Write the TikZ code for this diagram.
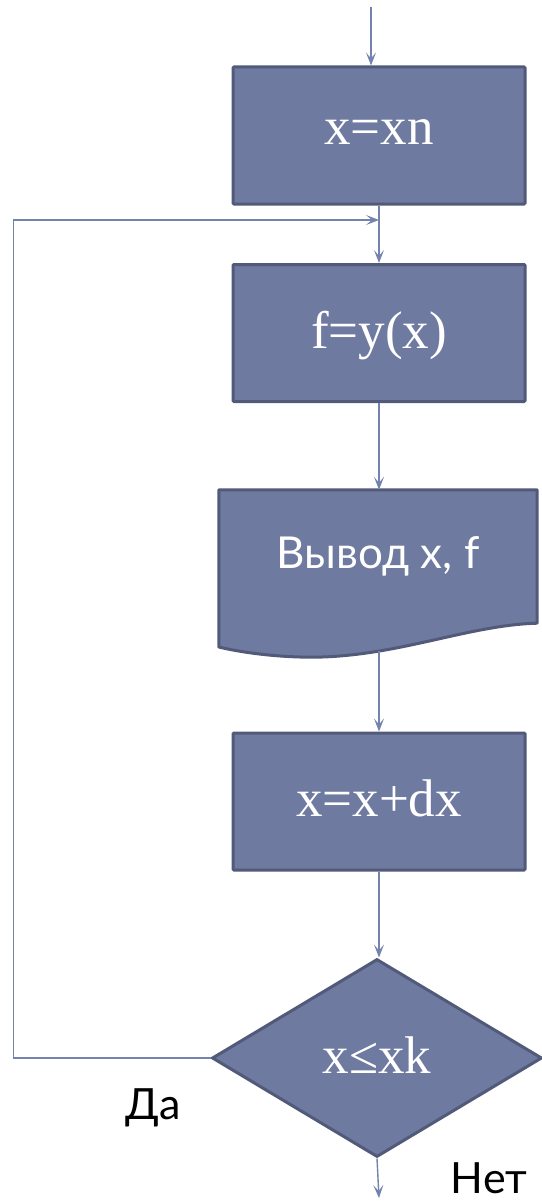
\documentclass[tikz,border=0pt]{standalone}
\usepackage{fontspec}
\setmainfont{Liberation Serif}
\newfontfamily\labelfont{Lato}
\usetikzlibrary{shapes.geometric,arrows.meta,backgrounds}
\definecolor{boxfill}{RGB}{111,122,160}
\definecolor{boxline}{RGB}{82,90,122}
\definecolor{flow}{RGB}{115,131,173}
\begin{document}
\begin{tikzpicture}[x=1pt,y=-1pt,
  block/.style={rectangle,draw=boxline,fill=boxfill,line width=3pt,rounded corners=1pt,
    minimum width=\boxw pt,minimum height=\boxh pt,text=white,text depth=6pt,font=\fontsize{53}{60}\selectfont},
  decide/.style={diamond,draw=boxline,fill=boxfill,line width=3pt,aspect=1.67,inner sep=0pt,
    minimum width=330pt,minimum height=198pt,text=white,text depth=6pt,font=\fontsize{53}{60}\selectfont},
  arr/.style={draw=flow,line width=1.4pt,-{Stealth[length=13pt,width=10pt,inset=6pt]}},
  lbl/.style={font=\labelfont\fontsize{43}{50}\selectfont,anchor=base,inner sep=0pt}]
\pgfmathsetmacro{\boxw}{292}
\pgfmathsetmacro{\boxh}{137}
\useasboundingbox (0,0) rectangle (541,1201);
\node[block] (xn) at (379,135.5) {x=xn};
\node[block] (fy) at (379,333) {f=y(x)};
\node[text=white,font=\labelfont\fontsize{44}{50}\selectfont,minimum width=318pt,minimum height=133pt] (out) at (378,556.5) {Вывод x, f};
\node[block] (dx) at (379,801.5) {x=x+dx};
\node[decide] (cmp) at (377,1058) {x≤xk};
\coordinate (start) at (371,7);
\coordinate (join) at (379,220);
\coordinate (outb) at (379,651);
\coordinate (end) at (379,1198);
\begin{scope}[on background layer]
\draw[boxline,fill=boxfill,line width=3pt,line join=round] (out.north west) -- (out.north east) -- (out.south east)
  .. controls (465,625) and (390,660) .. (300,657)
  .. controls (265,656) and (235,651) .. (out.south west |- 0,647) -- cycle;
\end{scope}
\draw[arr] (start) -- (start |- xn.north);
\draw[arr] (xn.south) -- (fy.north);
\draw[arr] (fy.south) -- (out.north -| fy.south);
\draw[arr] (outb) -- (dx.north);
\draw[arr] (dx.south) -- (cmp.north -| dx.south);
\draw[arr] (cmp.west) -- ++(-197,0) |- (join);
\draw[arr] (cmp.south) -- (end);
\node[lbl] (yes) at (153,1119) {Да};
\node[lbl] (no) at (489,1193) {Нет};
\end{tikzpicture}
\end{document}
